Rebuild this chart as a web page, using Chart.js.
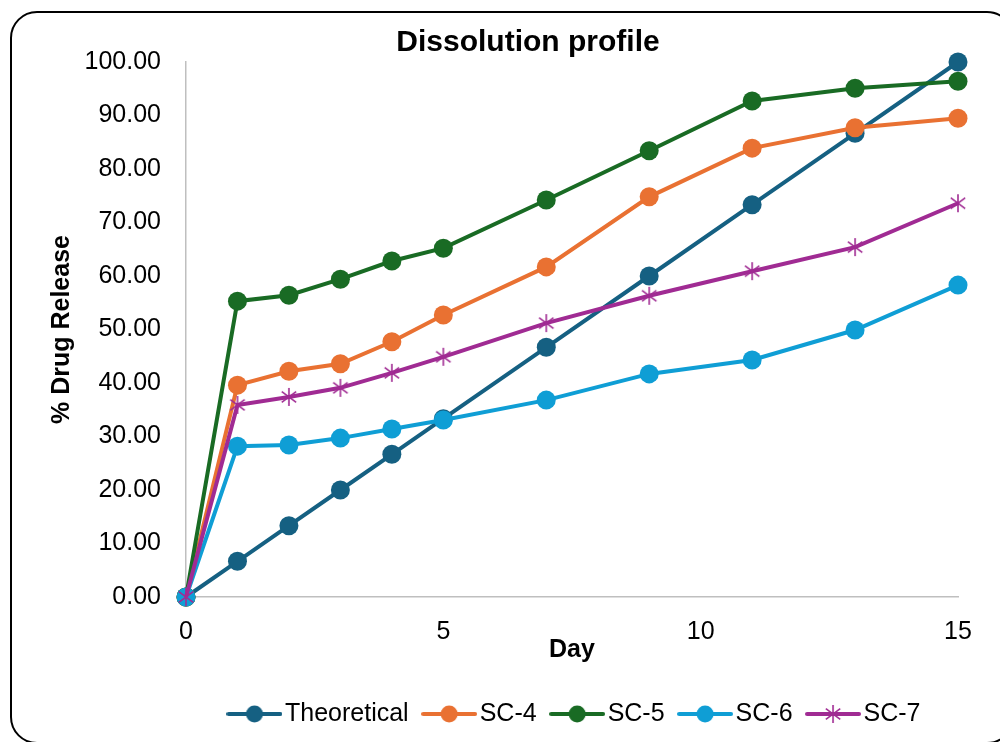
<!DOCTYPE html>
<html><head><meta charset="utf-8">
<script src="https://cdn.jsdelivr.net/npm/chart.js@4.4.1/dist/chart.umd.min.js"></script>
<style>
html,body{margin:0;padding:0;background:#fff;}
#wrap{position:relative;width:1000px;height:742px;overflow:hidden;}
#frame{position:absolute;left:10px;top:11px;width:1000px;height:729px;border:2px solid #000;border-radius:27px;}
canvas{position:absolute;left:0;top:0;}
</style></head><body>
<div id="wrap"><div id="frame"></div><canvas id="c" width="1000" height="742"></canvas></div>
<script>
const days = [0,1,2,3,4,5,7,9,11,13,15];
const theoretical = [0,6.67,13.33,20,26.67,33.33,46.67,60,73.33,86.67,100];
const sc4 = [0,39.6,42.2,43.6,47.7,52.7,61.7,74.8,83.9,87.7,89.5];
const sc5 = [0,55.3,56.4,59.4,62.8,65.2,74.2,83.4,92.7,95.1,96.4];
const sc6 = [0,28.2,28.4,29.7,31.4,33.1,36.8,41.7,44.3,49.9,58.3];
const sc7 = [0,35.9,37.4,39.1,41.9,44.9,51.2,56.3,60.9,65.4,73.6];
const seriesNames = ['Theoretical','SC-4','SC-5','SC-6','SC-7'];
const seriesColors = ['#156082','#E97132','#196B24','#0F9ED5','#A02B93'];
const seriesValues = [theoretical, sc4, sc5, sc6, sc7];
const seriesMarkers = ['circle','circle','circle','circle','star6'];
const chartTitle = 'Dissolution profile';
const xTitle = 'Day';
const yTitle = '% Drug Release';

const FONT = '"Liberation Sans", Arial, sans-serif';

function starCanvas(color, r){
  const c = document.createElement('canvas');
  c.width = c.height = 2*r + 2;
  const g = c.getContext('2d');
  const m = r + 1;
  g.strokeStyle = color; g.lineWidth = 1.6;
  g.beginPath();
  g.moveTo(m, m - r); g.lineTo(m, m + r);
  const d = r * 0.8;
  g.moveTo(m - d, m - d*0.75); g.lineTo(m + d, m + d*0.75);
  g.moveTo(m - d, m + d*0.75); g.lineTo(m + d, m - d*0.75);
  g.stroke();
  return c;
}
function legendIcon(color, marker){
  const c = document.createElement('canvas');
  c.width = 56; c.height = 22;
  const g = c.getContext('2d');
  g.strokeStyle = color; g.lineWidth = 4; g.lineCap = 'round';
  g.beginPath(); g.moveTo(2, 11); g.lineTo(54, 11); g.stroke();
  if (marker === 'star6') {
    g.drawImage(starCanvas(color, 9), 28 - 10, 11 - 10);
  } else {
    g.fillStyle = color; g.beginPath(); g.arc(28, 11, 8.5, 0, Math.PI*2); g.fill();
  }
  return c;
}
const legendIcons = seriesNames.map((n,i)=>legendIcon(seriesColors[i], seriesMarkers[i]));

const datasets = seriesNames.map((name, i) => ({
  label: name,
  data: days.map((d, k) => ({x: d, y: seriesValues[i][k]})),
  borderColor: seriesColors[i],
  backgroundColor: seriesColors[i],
  borderWidth: 4,
  pointStyle: seriesMarkers[i] === 'star6' ? starCanvas(seriesColors[i], 9) : 'circle',
  pointRadius: 9.5,
  pointBorderWidth: 0,
  pointBackgroundColor: seriesColors[i],
  tension: 0,
  clip: false,
  order: seriesNames.length - i
}));

const titlePlugin = {
  id: 'titleText',
  afterLayout(chart){
    if (chart.legend) { chart.legend.left += 6.5; chart.legend.right += 6.5; }
  },
  afterDraw(chart){
    const ctx = chart.ctx;
    ctx.save();
    ctx.font = 'bold 30px ' + FONT;
    ctx.fillStyle = '#000';
    ctx.textAlign = 'center';
    ctx.textBaseline = 'middle';
    ctx.fillText(chartTitle, 528, 43);
    ctx.restore();
  }
};

new Chart(document.getElementById('c'), {
  type: 'line',
  data: { datasets },
  plugins: [titlePlugin],
  options: {
    responsive: false,
    animation: false,
    devicePixelRatio: 1,
    layout: { padding: { left: 40, right: 42, top: 62, bottom: 5.5 } },
    plugins: {
      tooltip: { enabled: false },
      title: { display: false },
      legend: {
        display: true,
        position: 'bottom',
        fullSize: false,
        labels: {
          usePointStyle: true,
          pointStyleWidth: 36,
          padding: 22.5,
          color: '#000',
          font: { family: FONT, size: 25 },
          generateLabels(chart){
            const items = Chart.defaults.plugins.legend.labels.generateLabels(chart);
            items.forEach(it => { it.pointStyle = legendIcons[it.datasetIndex]; });
            return items;
          },
          sort: (a, b) => a.datasetIndex - b.datasetIndex
        }
      }
    },
    scales: {
      x: {
        type: 'linear',
        min: 0, max: 15,
        grid: { display: false, drawTicks: false },
        border: { display: true, color: '#BFBFBF', width: 1.5 },
        ticks: { stepSize: 5, padding: 20.5, color: '#000', font: { family: FONT, size: 25 } },
        title: { display: true, text: xTitle, color: '#000', font: { family: FONT, size: 25, weight: 'bold' }, padding: { top: 0, bottom: 14 } },
        afterFit(scale){ scale.height = 82; }
      },
      y: {
        type: 'linear',
        min: 0, max: 100,
        grid: { display: false, drawTicks: false },
        border: { display: true, color: '#BFBFBF', width: 1.5 },
        ticks: { stepSize: 10, padding: 25, color: '#000', font: { family: FONT, size: 25 },
          callback: v => Number(v).toFixed(2) },
        title: { display: true, text: yTitle, color: '#000', font: { family: FONT, size: 25, weight: 'bold' }, padding: { top: 7, bottom: 0 } },
        afterFit(scale){ scale.width = 146; }
      }
    }
  }
});
</script>
</body></html>
